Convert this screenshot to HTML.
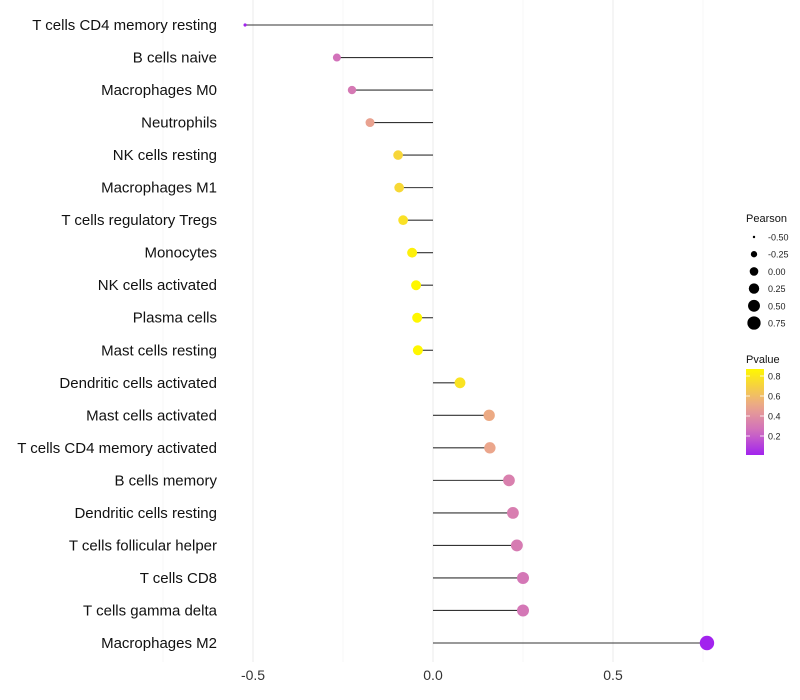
<!DOCTYPE html>
<html><head><meta charset="utf-8"><style>
body{margin:0;background:#fff;}
svg{font-family:"Liberation Sans",sans-serif;display:block}
</style></head><body>
<svg id="c" width="800" height="700"></svg>
<script>
const categories=["T cells CD4 memory resting","B cells naive","Macrophages M0","Neutrophils","NK cells resting","Macrophages M1","T cells regulatory  Tregs ","Monocytes","NK cells activated","Plasma cells","Mast cells resting","Dendritic cells activated","Mast cells activated","T cells CD4 memory activated","B cells memory","Dendritic cells resting","T cells follicular helper","T cells CD8","T cells gamma delta","Macrophages M2"];
const pearson=[-0.522,-0.267,-0.225,-0.175,-0.097,-0.094,-0.083,-0.058,-0.047,-0.044,-0.042,0.075,0.156,0.158,0.211,0.222,0.233,0.25,0.25,0.761];
const pvalue=[0.01,0.27,0.3,0.48,0.72,0.73,0.77,0.84,0.87,0.87,0.87,0.78,0.52,0.5,0.33,0.32,0.31,0.29,0.29,0.01];
const xTicks=[-0.5,0,0.5];
const xTickLabels=["-0.5","0.0","0.5"];
const sizeBreaks=[-0.5,-0.25,0,0.25,0.5,0.75];
const sizeLabels=["-0.50","-0.25","0.00","0.25","0.50","0.75"];
const colorBreaks=[0.8,0.6,0.4,0.2];

const NS="http://www.w3.org/2000/svg";
const svg=document.getElementById('c');
function mk(t,a,p){const e=document.createElementNS(NS,t);for(const k in a)e.setAttribute(k,a[k]);(p||svg).appendChild(e);return e;}
const x=v=>433+v*360;
const y=i=>25+i*(643-25)/19;
const rPts=[[-0.53,1.5],[-0.27,4],[-0.1,4.8],[0.25,6],[0.76,7.2]];
function r(v){for(let i=1;i<rPts.length;i++){if(v<=rPts[i][0]||i==rPts.length-1){const a=rPts[i-1],b=rPts[i];const t=Math.max(0,Math.min(1,(v-a[0])/(b[0]-a[0])));return a[1]+(b[1]-a[1])*t;}}}
const rLeg=v=>Math.sqrt(Math.max(1.5,18.5+34*v));
const stops=[[0,[160,32,240]],[0.25,[208,110,190]],[0.5,[235,166,140]],[0.87,[255,247,0]]];
function col(p){for(let i=1;i<stops.length;i++){if(p<=stops[i][0]||i==stops.length-1){const a=stops[i-1],b=stops[i];let t=(p-a[0])/(b[0]-a[0]);t=Math.max(0,Math.min(1,t));const c=a[1].map((v,k)=>Math.round(v+(b[1][k]-v)*t));return `rgb(${c})`;}}}

[-0.75,-0.25,0.25,0.75].forEach(v=>{const g=mk('line',{x1:x(v),x2:x(v),y1:0,y2:662,stroke:'#f2f2f2','stroke-width':0.6});

});
xTicks.forEach((v,i)=>{const g=mk('line',{x1:x(v),x2:x(v),y1:0,y2:662,stroke:'#ebebeb','stroke-width':1});


const t=mk('text',{x:x(v),y:680,'text-anchor':'middle','font-size':14,fill:'#333'});t.textContent=xTickLabels[i];

});

categories.forEach((c,i)=>{
const t=mk('text',{x:217,y:y(i)+5,'text-anchor':'end','font-size':15,fill:'#111'});t.textContent=c;


const l=mk('line',{x1:x(0),x2:x(pearson[i]),y1:y(i),y2:y(i),stroke:'#333','stroke-width':1.1});


const d=mk('circle',{cx:x(pearson[i]),cy:y(i),r:r(pearson[i]),fill:col(pvalue[i])});


});

let t=mk('text',{x:746,y:222,'font-size':11,fill:'#111'});t.textContent='Pearson';


sizeBreaks.forEach((v,i)=>{const yy=237+i*17.2;
const d=mk('circle',{cx:754,cy:yy,r:rLeg(v),fill:'#000'});


const tt=mk('text',{x:768,y:yy+3.5,'font-size':9,fill:'#222'});tt.textContent=sizeLabels[i];

});

t=mk('text',{x:746,y:363,'font-size':11,fill:'#111'});t.textContent='Pvalue';


const defs=mk('defs',{});const lg=mk('linearGradient',{id:'g',x1:0,y1:1,x2:0,y2:0},defs);
for(let k=0;k<=10;k++){const p=0.01+k*0.086;mk('stop',{offset:k/10,'stop-color':col(p)},lg);}
const bar=mk('rect',{x:746,y:369,width:18,height:86,fill:'url(#g)'});


const cy=v=>455-(v-0.01)*100;
colorBreaks.forEach(v=>{
mk('line',{x1:746,x2:750,y1:cy(v),y2:cy(v),stroke:'#fff','stroke-width':0.8});
mk('line',{x1:760,x2:764,y1:cy(v),y2:cy(v),stroke:'#fff','stroke-width':0.8});
const tt=mk('text',{x:768,y:cy(v)+3.5,'font-size':9,fill:'#222'});tt.textContent=v.toFixed(1);

});
</script>
</body></html>
